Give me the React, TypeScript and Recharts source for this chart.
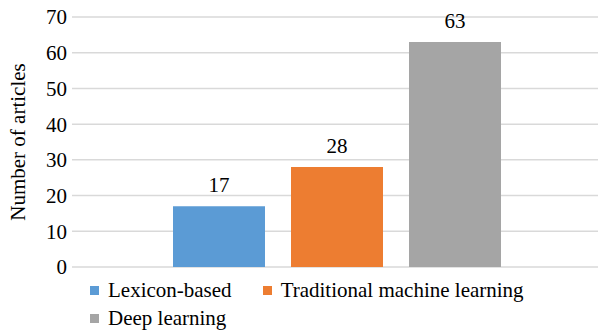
import React from "react";
import { BarChart, Bar, XAxis, YAxis, CartesianGrid, Legend, LabelList } from "recharts";

const seriesKeys = ["lexicon", "traditional", "deep"];
const seriesNames = ["Lexicon-based", "Traditional machine learning", "Deep learning"];
const seriesValues = [17, 28, 63];
const seriesColors = ["#5B9BD5", "#ED7D31", "#A5A5A5"];
const yTicks = [0, 10, 20, 30, 40, 50, 60, 70];

const FONT = "Liberation Serif";
const FS = 21;

const row: Record<string, string | number> = { name: "" };
seriesKeys.forEach((k, i) => {
  row[k] = seriesValues[i];
});
const data = [row];

function LegendBox() {
  return (
    <div
      style={{
        height: 65,
        boxSizing: "border-box",
        paddingTop: 9,
        paddingLeft: 90,
        display: "flex",
        flexWrap: "wrap",
        columnGap: 31,
        fontFamily: FONT,
        fontSize: FS,
        lineHeight: "28px",
        color: "#000",
      }}
    >
      {seriesNames.map((n, i) => (
        <div key={n} style={{ display: "flex", alignItems: "center", whiteSpace: "nowrap" }}>
          <span
            style={{ width: 9, height: 9, background: seriesColors[i], marginRight: 9, display: "inline-block" }}
          />
          <span>{n}</span>
        </div>
      ))}
    </div>
  );
}

export default function App() {
  return (
    <div style={{ position: "absolute", left: 0, top: 0, background: "#fff", overflow: "hidden", width: 598, height: 332 }}>
      <BarChart
        width={598}
        height={332}
        data={data}
        margin={{ top: 17, right: -4, bottom: 0, left: 0 }}
        barGap={26}
        barSize={92}
      >
        <CartesianGrid horizontal vertical={false} stroke="#d9d9d9" strokeWidth={1.5} />
        <XAxis dataKey="name" hide />
        <YAxis
          width={72}
          domain={[0, 70]}
          ticks={yTicks}
          axisLine={false}
          tickLine={false}
          tickSize={0}
          tickMargin={5}
          tick={{ fontFamily: FONT, fontSize: FS, fill: "#000" }}
          label={{
            value: "Number of articles",
            angle: -90,
            position: "insideLeft",
            offset: 18,
            style: { textAnchor: "middle", fontFamily: FONT, fontSize: FS, fill: "#000" },
          }}
        />
        <Legend verticalAlign="bottom" content={() => <LegendBox />} />
        {seriesKeys.map((k, i) => (
          <Bar key={k} dataKey={k} name={seriesNames[i]} fill={seriesColors[i]} isAnimationActive={false}>
            <LabelList
              dataKey={k}
              position="top"
              offset={14}
              style={{ fontFamily: FONT, fontSize: FS, fill: "#000" }}
            />
          </Bar>
        ))}
      </BarChart>
    </div>
  );
}
